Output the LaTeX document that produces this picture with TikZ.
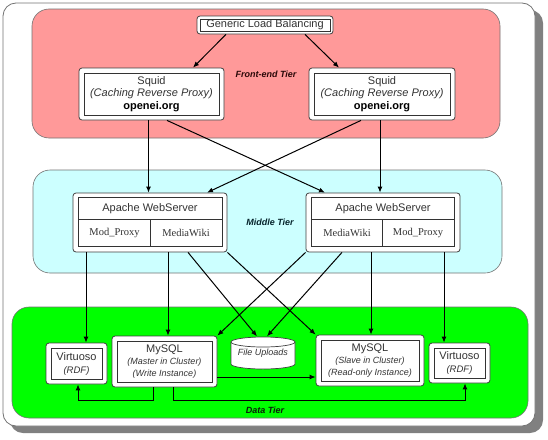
\documentclass[tikz,border=0pt]{standalone}
\usepackage{fontspec}
\setmainfont{Liberation Sans}
\newfontfamily\serifft{Liberation Serif}
\usetikzlibrary{arrows.meta,calc}
\definecolor{pinkT}{HTML}{FF9999}
\definecolor{cyanT}{HTML}{CCFFFF}
\definecolor{greenT}{HTML}{00FF00}
\definecolor{lblF}{HTML}{2A0808}
\definecolor{lblM}{HTML}{06242C}
\definecolor{lblD}{HTML}{082008}
\newcommand\smit{\fontsize{9}{12}\selectfont\itshape}
\tikzset{
  tier/.style={rounded corners=17pt, draw=black!55, line width=0.6pt},
  boxx/.style={draw=black!75, fill=white, rounded corners=3pt, line width=0.8pt,
    inner sep=0pt, align=center, text=black!80, font=\fontsize{11}{12.5}\selectfont,
    path picture={\draw[black!80, line width=0.6pt, sharp corners]
      ([shift={(#1,-#1)}]path picture bounding box.north west) rectangle
      ([shift={(-#1,#1)}]path picture bounding box.south east);}},
  boxx/.default=5pt,
  tablebox/.style={draw=black!75, fill=white, rounded corners=3pt, line width=0.8pt, inner sep=0pt},
  celltext/.style={text=black!80, font=\fontsize{11}{12}\selectfont, inner sep=0pt},
  serifcell/.style={text=black!80, font=\serifft\fontsize{10.5}{12}\selectfont, inner sep=0pt},
  tablelines/.style={draw=black!80, line width=0.7pt},
  tierlabel/.style={font=\fontsize{9}{10}\selectfont\bfseries\itshape, inner sep=0pt},
  conn/.style={line width=1pt, -{Latex[length=6pt,width=5pt]}},
  cyl/.style={draw=black!75, fill=white, line width=0.7pt}
}
\begin{document}
\begin{tikzpicture}[x=1pt,y=-1pt]
\useasboundingbox (0,0) rectangle (548,439);
% outer frame with shadow
\fill[black!50, rounded corners=13pt] (10,10) rectangle (543,433);
\draw[black!55, fill=white, rounded corners=13pt, line width=0.8pt] (3,3) rectangle (535,426);
% tiers
\draw[tier, fill=pinkT] (32,9) rectangle (500,138);
\draw[tier, fill=cyanT] (33,170) rectangle (502,273);
\draw[tier, fill=greenT] (12,307) rectangle (528,418);
\node[tierlabel, text=lblF] (tF) at (266,74) {Front-end Tier};
\node[tierlabel, text=lblM] (tM) at (270,222) {Middle Tier};
\node[tierlabel, text=lblD] (tD) at (265,410) {Data Tier};

% front-end
\node[boxx=3pt, minimum width=136pt, minimum height=18pt] (glb) at (265,25) {Generic Load Balancing};
\node[boxx, minimum width=145pt, minimum height=52pt] (sqL) at (151.5,94)
  {Squid\\\textit{(Caching Reverse Proxy)}\\\textcolor{black}{\textbf{openei.org}}};
\node[boxx, minimum width=146pt, minimum height=52pt] (sqR) at (382,94)
  {Squid\\\textit{(Caching Reverse Proxy)}\\\textcolor{black}{\textbf{openei.org}}};

% middle tier
\node[tablebox, minimum width=154pt, minimum height=59pt] (apL) at (150,222.5) {};
\draw[tablelines] ([shift={(6pt,-5pt)}]apL.north west) rectangle ([shift={(-5pt,6pt)}]apL.south east);
\draw[tablelines] ([shift={(6pt,-27pt)}]apL.north west) -- ([shift={(-5pt,-27pt)}]apL.north east);
\draw[tablelines] ([yshift=-27pt]apL.north) -- ([yshift=6pt]apL.south);
\node[celltext] (apLh) at (150,209) {Apache WebServer};
\node[serifcell] (apLa) at (114.5,233) {Mod\_Proxy};
\node[serifcell] (apLb) at (186,233) {MediaWiki};

\node[tablebox, minimum width=154pt, minimum height=59pt] (apR) at (383,222.5) {};
\draw[tablelines] ([shift={(6pt,-5pt)}]apR.north west) rectangle ([shift={(-6pt,6pt)}]apR.south east);
\draw[tablelines] ([shift={(6pt,-27pt)}]apR.north west) -- ([shift={(-6pt,-27pt)}]apR.north east);
\draw[tablelines] ([shift={(-1pt,-27pt)}]apR.north) -- ([shift={(-1pt,6pt)}]apR.south);
\node[celltext] (apRh) at (383,209) {Apache WebServer};
\node[serifcell] (apRa) at (347,233) {MediaWiki};
\node[serifcell] (apRb) at (418,233) {Mod\_Proxy};

% data tier
\node[boxx, minimum width=61pt, minimum height=41pt, font=\fontsize{11}{13}\selectfont] (viL) at (76.5,363.5)
  {Virtuoso\\{\fontsize{9.5}{13}\selectfont\itshape (RDF)}};
\node[boxx, minimum width=105pt, minimum height=51pt, font=\fontsize{11}{12}\selectfont] (msM) at (164.5,361.5)
  {MySQL\\{\smit (Master in Cluster)}\\{\smit (Write Instance)}};
\node[inner sep=0pt, minimum width=65pt, minimum height=33pt, text=black!80,
  font=\fontsize{9}{10}\selectfont\itshape,
  path picture={
    \path[cyl] ([shift={(0.5pt,-5.5pt)}]path picture bounding box.north west)
      -- ([shift={(0.5pt,5.5pt)}]path picture bounding box.south west)
      arc[start angle=180, end angle=360, x radius=32pt, y radius=5pt]
      -- ([shift={(-0.5pt,-5.5pt)}]path picture bounding box.north east)
      arc[start angle=0, end angle=180, x radius=32pt, y radius=5pt] -- cycle;
    \draw[black!75, line width=0.7pt] ([shift={(0.5pt,-5.5pt)}]path picture bounding box.north west)
      arc[start angle=180, end angle=360, x radius=32pt, y radius=5pt];
  }] (fu) at (263,353) {\raisebox{-4pt}{File Uploads}};
\node[boxx, minimum width=108pt, minimum height=51pt, font=\fontsize{11}{12}\selectfont] (msS) at (370,360.5)
  {MySQL\\{\smit (Slave in Cluster)}\\{\smit (Read-only Instance)}};
\node[boxx, minimum width=61pt, minimum height=40pt, font=\fontsize{11}{13}\selectfont] (viR) at (459.5,363)
  {Virtuoso\\{\fontsize{9.5}{13}\selectfont\itshape (RDF)}};

% connectors front-end -> middle
\draw[conn] ([xshift=-39pt]glb.south) -- ([xshift=41.5pt]sqL.north);
\draw[conn] ([xshift=40pt]glb.south) -- ([xshift=-43pt]sqR.north);
\draw[conn] ([xshift=-3pt]sqL.south) -- ([xshift=-3pt]sqL.south |- apL.north);
\draw[conn] ([xshift=15.5pt]sqL.south) -- ([xshift=-58pt]apR.north);
\draw[conn] ([xshift=-21pt]sqR.south) -- ([xshift=57pt]apL.north);
\draw[conn] ([xshift=-2pt]sqR.south) -- ([xshift=-2pt]sqR.south |- apR.north);

% middle -> data
\draw[conn] ([xshift=-64pt]apL.south) -- ([xshift=-64pt]apL.south |- viL.north);
\draw[conn] ([xshift=18pt]apL.south) -- ([xshift=18pt]apL.south |- msM.north);
\draw[conn] ([xshift=38pt]apL.south) -- ([xshift=-6pt]fu.north);
\draw[conn] (apL.south east) -- (msS.north west);
\draw[conn] (apR.south west) -- (msM.north east);
\draw[conn] ([xshift=-41pt]apR.south) -- ([xshift=4pt]fu.north);
\draw[conn] ([xshift=-12pt]apR.south) -- ([xshift=-12pt]apR.south |- msS.north);
\draw[conn] ([xshift=61pt]apR.south) -- ([xshift=61pt]apR.south |- viR.north);

% data tier links
\draw[conn] ([yshift=-15.5pt]msM.east) -- ([yshift=-15.5pt]msM.east -| msS.west);
\draw[conn] ([xshift=-11.5pt]msM.south) -- ++(0,13) -| ([xshift=1.5pt]viL.south);
\draw[conn] ([xshift=8.5pt]msM.south) -- ++(0,13) -| ([xshift=5.5pt]viR.south);
\end{tikzpicture}
\end{document}
